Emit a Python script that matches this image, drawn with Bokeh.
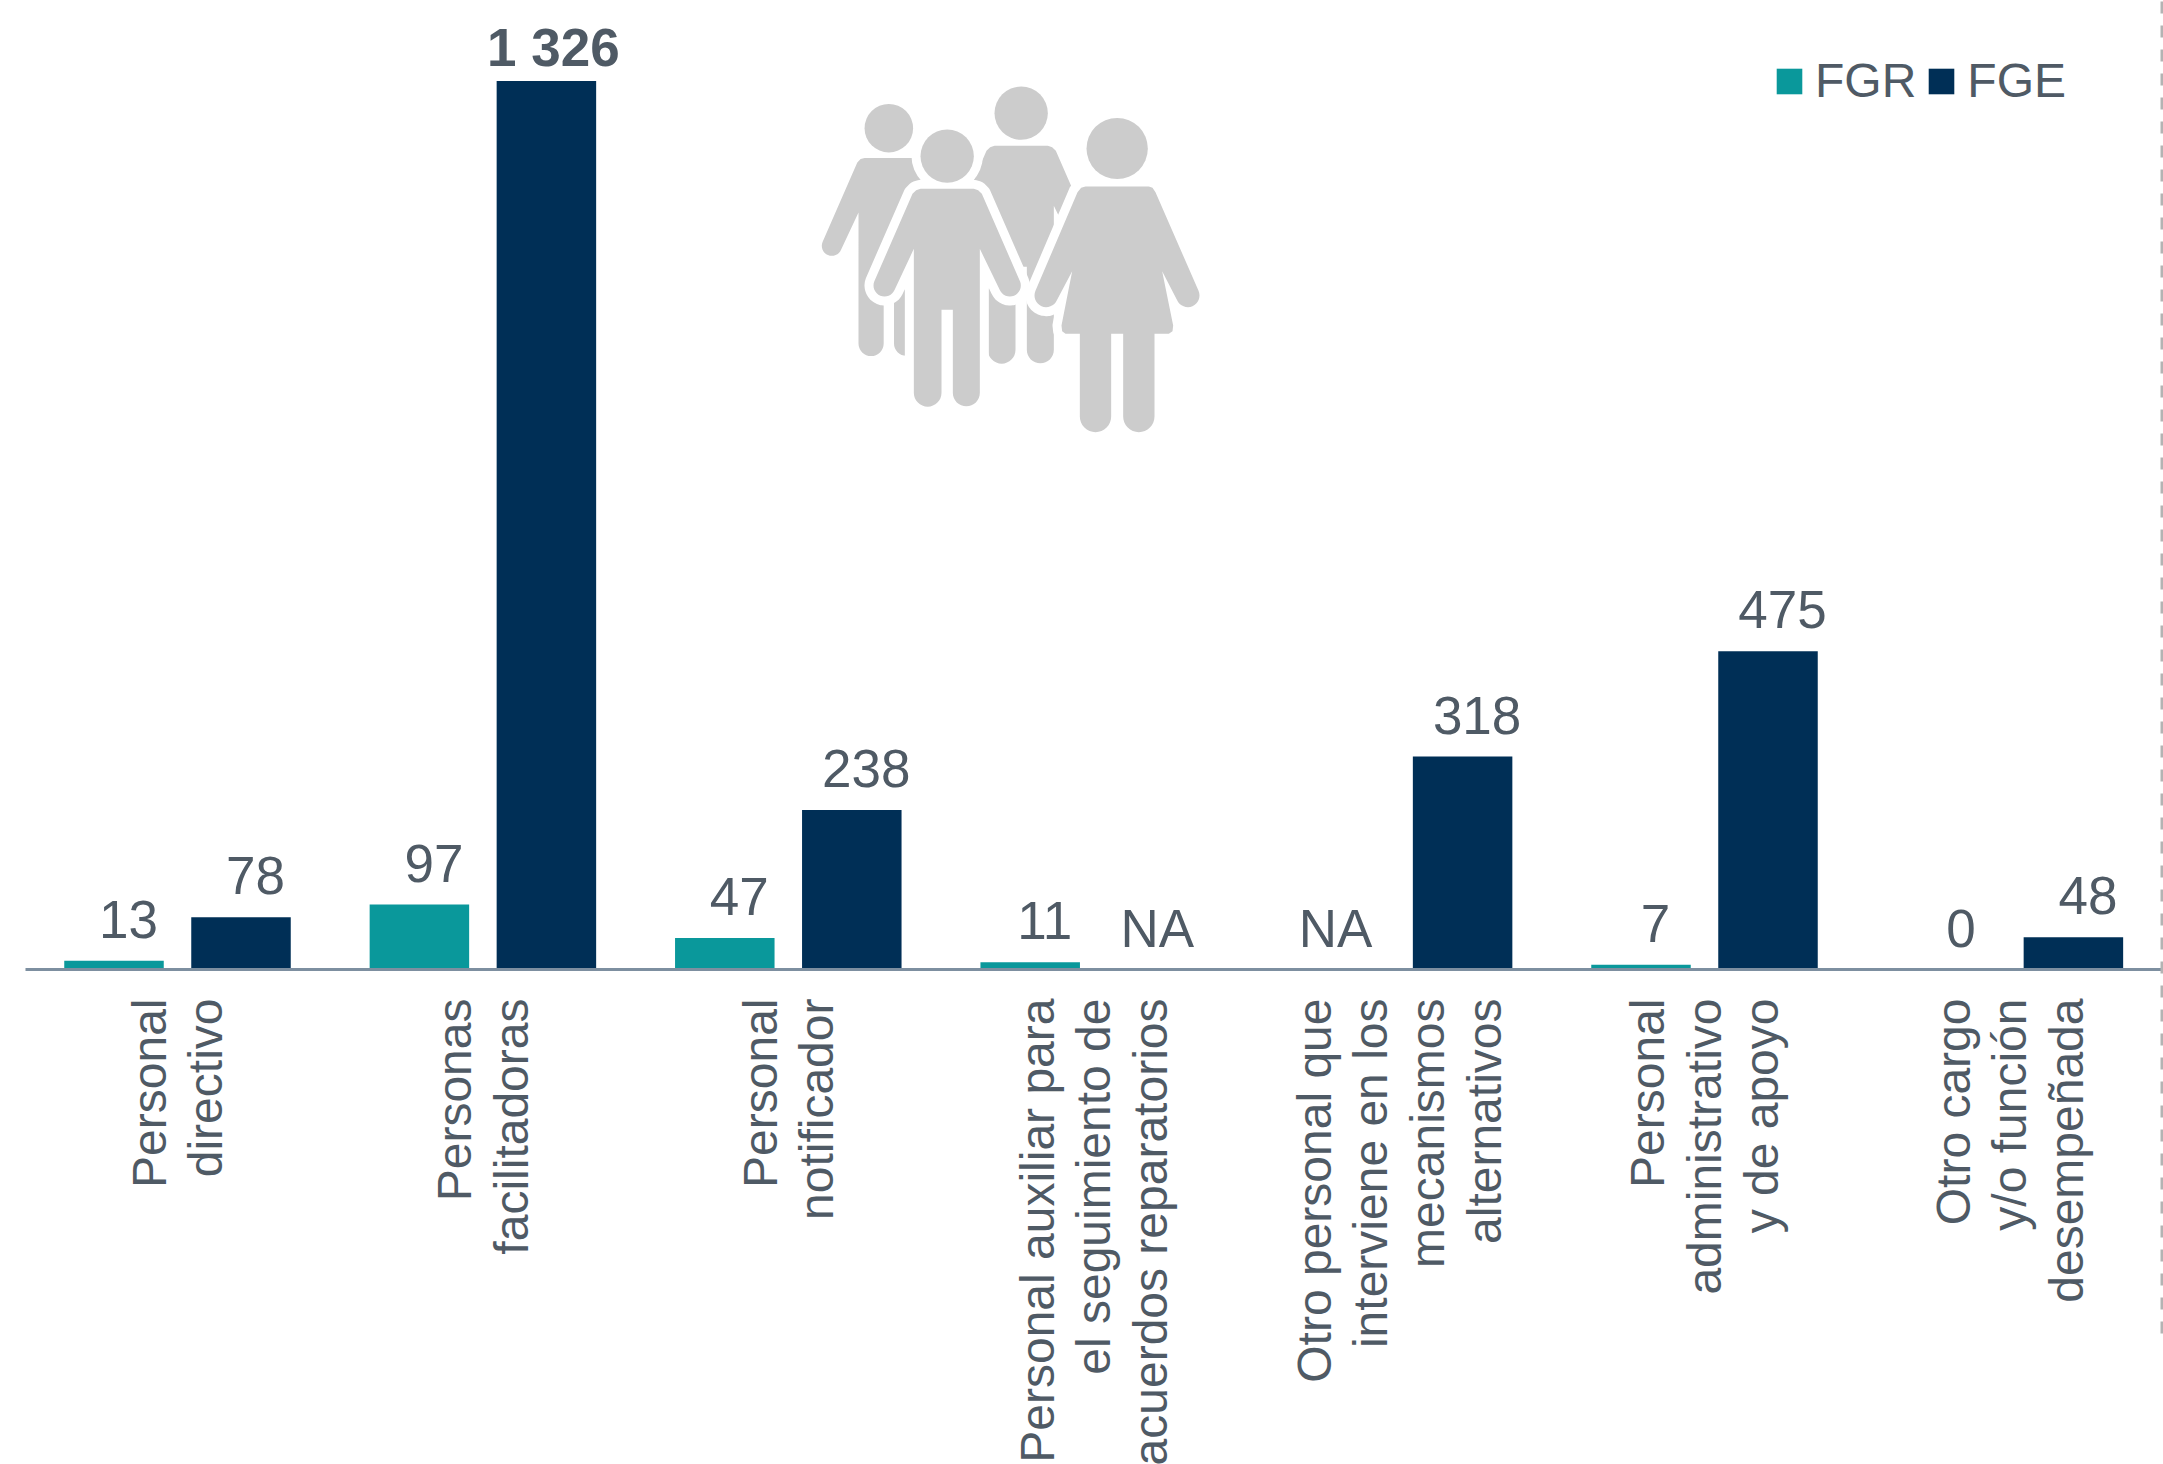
import math
from bokeh.embed import file_html
from bokeh.resources import INLINE
from bokeh.plotting import figure
from bokeh.models import ColumnDataSource, Range1d, Legend, LegendItem
from bokeh.core.properties import value

categories = [
    ["Personal", "directivo"],
    ["Personas", "facilitadoras"],
    ["Personal", "notificador"],
    ["Personal auxiliar para", "el seguimiento de", "acuerdos reparatorios"],
    ["Otro personal que", "interviene en los", "mecanismos", "alternativos"],
    ["Personal", "administrativo", "y de apoyo"],
    ["Otro cargo", "y/o función", "desempeñada"],
]
fgr = [13, 97, 47, 11, None, 7, 0]
fge = [78, 1326, 238, None, 318, 475, 48]
series_names = ["FGR", "FGE"]

TEAL, NAVY, TXT, AXIS, GREY, DASH = "#0A989B", "#002F56", "#4F5A65", "#7D8FA0", "#CCCCCC", "#B3B3B3"
W, H = 2163, 1464
PAGE = 0  # figure's top-left corner on the page, as measured from the first render
PX_PER_CAT, PX_PER_UNIT = 305.4, 0.670
X0_PX, BASE_PX = 177.0, 969.0   # figure px of first group centre and of y = 0
x_start = -X0_PX / PX_PER_CAT
y_start = -(H - BASE_PX) / PX_PER_UNIT

p = figure(width=W, height=H, output_backend="svg", toolbar_location=None,
           x_range=Range1d(x_start, x_start + W / PX_PER_CAT),
           y_range=Range1d(y_start, y_start + H / PX_PER_UNIT),
           min_border=0, min_border_left=0, min_border_right=0, min_border_top=0, min_border_bottom=0,
           outline_line_color=None, x_axis_location=None, y_axis_location=None)
p.grid.visible = False
p.background_fill_color = "white"
p.border_fill_color = "white"


def dx(px):  # reference page px -> data x
    return x_start + (px - PAGE) / PX_PER_CAT


def dy(py):  # reference page py -> data y
    return (BASE_PX - (py - PAGE)) / PX_PER_UNIT


# ---------- decorative icon (coordinates in the icon's own drawing space) ----------
def arc(cx, cy, r, a0, a1, n=16):
    return [(cx + r * math.cos(math.radians(a0 + (a1 - a0) * i / n)),
             cy + r * math.sin(math.radians(a0 + (a1 - a0) * i / n))) for i in range(n + 1)]


def man():
    pts = [(420, 385), (407, 389), (396, 400)]
    pts += arc(312, 675, 33, 202.5, 22.5)
    pts += [(400, 565), (400, 997)] + arc(441.5, 997, 41.5, 180, 0)
    pts += [(483, 748), (517, 748)] + arc(557.5, 997, 40.5, 180, 0)
    pts += [(598, 565)] + arc(688, 675, 33, 157.5, -22.5)
    pts += [(604, 400), (593, 389), (580, 385)]
    return pts


def woman():
    pts = [(915, 378), (902, 382), (891, 395)]
    pts += arc(797, 705, 35, 203.5, 23.5)
    pts += [(875, 632), (843, 795), (845, 812), (855, 820), (898, 820), (898, 1068)]
    pts += arc(945, 1068, 47, 180, 0)
    pts += [(992, 820), (1028, 820)] + arc(1075, 1068, 47, 180, 0)
    pts += [(1122, 820), (1165, 820), (1176, 812), (1178, 795), (1145, 632)]
    pts += arc(1222, 705, 35, 156.5, -23.5)
    pts += [(1125, 395), (1116, 382), (1105, 378)]
    return pts


def place(pts, tx=0.0, ty=0.0, s=1.0, ox=500.0, oy=287.0):
    xs = [dx(780 + (tx + ox + (x - ox) * s) / 3) for x, y in pts]
    ys = [dy(60 + (ty + oy + (y - oy) * s) / 3) for x, y in pts]
    return xs, ys


def draw_person(pts, head, r, tx=0.0, ty=0.0, s=1.0, halo=False):
    xs, ys = place(pts, tx, ty, s)
    hx, hy = place([head], tx, ty, s)
    size = 2 * r * s / 3
    if halo:
        p.patch(xs, ys, fill_color="white", line_color="white", line_width=18, line_join="round")
        p.scatter(hx, hy, marker="circle", size=size + 18, fill_color="white", line_color=None)
    p.patch(xs, ys, fill_color=GREY, line_color=None)
    p.scatter(hx, hy, marker="circle", size=size, fill_color=GREY, line_color=None)


draw_person(man(), (500, 287), 80, tx=-175, ty=-84, s=0.91)
draw_person(man(), (500, 287), 80, tx=222, ty=-129, s=1.0)
draw_person(man(), (500, 287), 80, halo=True)
draw_person(woman(), (1010, 264), 92, halo=True)

# ---------- bars ----------
n = len(categories)
BAR_W = 99.5 / PX_PER_CAT
OFF = 63.5 / PX_PER_CAT
idx = list(range(n))
src_a = ColumnDataSource(dict(x=[i - OFF for i in idx], top=[v if v is not None else 0 for v in fgr]))
src_b = ColumnDataSource(dict(x=[i + OFF for i in idx], top=[v if v is not None else 0 for v in fge]))
r_a = p.vbar(x="x", top="top", bottom=0, width=BAR_W, source=src_a, fill_color=TEAL, line_color=None)
r_b = p.vbar(x="x", top="top", bottom=0, width=BAR_W, source=src_b, fill_color=NAVY, line_color=None)

# axis line and the dashed frame at the right
p.segment(dx(25), 0, dx(2163), 0, line_color=AXIS, line_width=3)
p.segment(dx(2161.5), dy(1), dx(2161.5), dy(1334), line_color=DASH, line_width=3, line_dash="12 12")


# ---------- value labels ----------
def fmt(v):
    if v is None:
        return "NA"
    return f"{v:,}".replace(",", " ")


rows = []
for vals, sign in ((fgr, -1), (fge, 1)):
    for i, v in enumerate(vals):
        big = v is not None and v >= 1000
        xo = 0 if v is None else (7 if big else 14.5)
        yo = -33.2 if big else -41.4
        rows.append(dict(x=i + sign * OFF, y=v or 0, t=fmt(v), xo=xo, yo=yo, big=big))

normal = [r for r in rows if not r["big"]]
bold = [r for r in rows if r["big"]]
for subset, style in ((normal, "normal"), (bold, "bold")):
    s = ColumnDataSource({k: [r[k] for r in subset] for k in ("x", "y", "t", "xo", "yo")})
    p.text(x="x", y="y", text="t", x_offset="xo", y_offset="yo", source=s,
           text_font=value("Liberation Sans"), text_font_size="53px", text_font_style=style,
           text_color=TXT, text_align="center", text_baseline="alphabetic")

# ---------- category labels ----------
LINE = 56.6
cx, cy, ct, co = [], [], [], []
for i, lines in enumerate(categories):
    for j, line in enumerate(lines):
        cx.append(i)
        cy.append(0)
        ct.append(line)
        co.append((j - (len(lines) - 1) / 2) * LINE)
p.text(x="x", y="y", text="t", x_offset="o", y_offset=29, angle=math.pi / 2,
       source=ColumnDataSource(dict(x=cx, y=cy, t=ct, o=co)),
       text_font=value("Liberation Sans"), text_font_size="48px", text_color=TXT,
       text_align="right", text_baseline="middle")

# ---------- legend ----------
legend = Legend(items=[LegendItem(label=series_names[0], renderers=[r_a]),
                       LegendItem(label=series_names[1], renderers=[r_b])],
                orientation="horizontal", location=(1773, H - 108), padding=0, margin=0, spacing=9,
                glyph_width=32, glyph_height=32, label_standoff=10,
                label_text_font="Liberation Sans", label_text_font_size="48px", label_text_color=TXT,
                border_line_color=None, background_fill_alpha=0)
p.add_layout(legend)

open("out.html", "w").write(file_html(p, INLINE))
